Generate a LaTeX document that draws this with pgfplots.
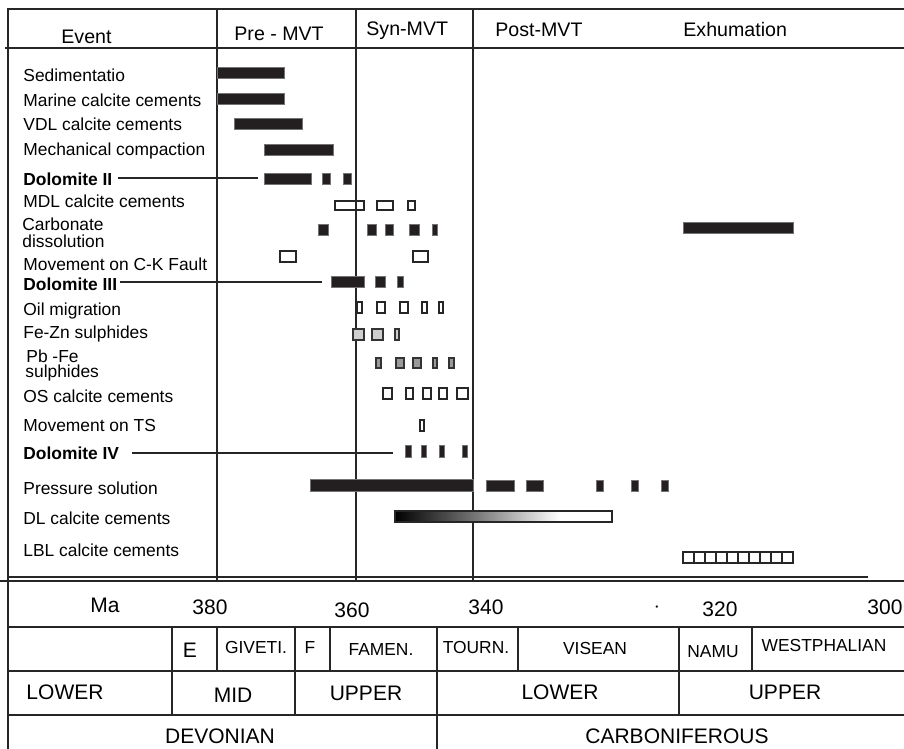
\documentclass[border=0pt]{standalone}
\usepackage{fontspec}
\setmainfont{Liberation Sans}
\usepackage{pgfplots}
\pgfplotsset{compat=1.18}
\definecolor{barblk}{HTML}{231F20}
\definecolor{lgray}{HTML}{CFCFCF}
\definecolor{mgray}{HTML}{9A9A9A}
\pgfdeclarehorizontalshading{dlshade}{100bp}{color(0bp)=(black); color(25bp)=(black); color(43bp)=(black!55); color(63bp)=(white); color(100bp)=(white)}
\newcommand\lab{\fontsize{8.7bp}{10bp}\selectfont}
\newcommand\hdr{\fontsize{9.8bp}{11bp}\selectfont}
\newcommand\scl{\fontsize{10.5bp}{12bp}\selectfont}
\newcommand\stg{\fontsize{8.7bp}{10bp}\selectfont}
% filled black bar: x1 x2 y1 y2
\newcommand\fb[4]{\addplot[fill=barblk, draw=black!55, line width=0.35bp] coordinates {(#1,#3) (#2,#3) (#2,#4) (#1,#4)} -- cycle;}
% open bar
\newcommand\ob[4]{\addplot[fill=none, draw=black!85, line width=0.7bp] coordinates {(#1,#3) (#2,#3) (#2,#4) (#1,#4)} -- cycle;}
% grey bar
\newcommand\gb[5]{\addplot[fill=#5, draw=black!80, line width=0.6bp] coordinates {(#1,#3) (#2,#3) (#2,#4) (#1,#4)} -- cycle;}
% segment
\newcommand\seg[5][1bp]{\addplot[black!85, line width=#1] coordinates {(#2,#4) (#3,#5)};}
\begin{document}
\begin{tikzpicture}
\begin{axis}[
  width=452bp, height=374.5bp, scale only axis,
  xmin=0, xmax=904, ymin=0, ymax=749, y dir=reverse,
  hide axis, clip=false]
% ---- frame lines
\seg[1.1bp]{7}{904}{9}{9}
\seg[1.2bp]{5}{904}{48}{48}
\seg[1bp]{8}{8}{9}{749}
\seg[1bp]{217}{217}{9}{581}
\seg[1bp]{356}{356}{9}{581}
\seg[1.1bp]{473}{473}{9}{581}
\seg[0.9bp]{8}{868}{577}{577}
\seg[1.1bp]{0}{904}{581}{581}
% ---- bottom table
\seg[1bp]{8}{904}{627}{627}
\seg[1bp]{8}{904}{671}{671}
\seg[1bp]{8}{904}{715}{715}
\seg[0.8bp]{172}{172}{627}{715}
\seg[0.8bp]{217}{217}{627}{671}
\seg[0.8bp]{295}{295}{627}{715}
\seg[0.8bp]{330}{330}{627}{671}
\seg[0.8bp]{437}{437}{627}{749}
\seg[0.8bp]{518}{518}{627}{671}
\seg[0.8bp]{679}{679}{627}{715}
\seg[0.8bp]{752}{752}{627}{671}
% ---- leader lines
\seg[0.7bp]{118}{258}{178}{178}
\seg[0.7bp]{120}{322}{282}{282}
\seg[0.7bp]{132}{393}{453}{453}
% ---- bars
\fb{217}{284}{67}{78}
\fb{217}{284}{93}{104}
\fb{234}{302}{118}{129}
\fb{264}{333}{144}{155}
\fb{264}{311}{173}{184}
\fb{322}{330}{173}{184}
\fb{343}{351}{173}{184}
\ob{335}{364}{201}{210}
\ob{377}{393}{201}{210}
\ob{408}{415}{201}{210}
\fb{318}{328}{224}{235}
\fb{367}{376}{224}{235}
\fb{385}{393}{224}{235}
\fb{409}{419}{224}{235}
\fb{432}{437}{224}{235}
\fb{683}{793}{222}{233}
\ob{280}{296}{251}{262}
\ob{413}{428}{251}{262}
\fb{331}{364}{276}{287}
\fb{375}{385}{276}{287}
\fb{397}{403}{276}{287}
\ob{357}{362}{302}{313}
\ob{377}{385}{302}{313}
\ob{400}{408}{302}{313}
\ob{422}{427}{302}{313}
\ob{439}{443}{302}{313}
\gb{353}{364}{329}{340}{lgray}
\gb{372}{383}{329}{340}{lgray}
\gb{395}{399}{329}{340}{lgray}
\gb{376}{381}{358}{368}{mgray}
\gb{396}{404}{358}{368}{mgray}
\gb{413}{421}{358}{368}{mgray}
\gb{433}{437}{358}{368}{mgray}
\gb{449}{454}{358}{368}{mgray}
\ob{383}{392}{388}{399}
\ob{406}{413}{388}{399}
\ob{423}{431}{388}{399}
\ob{439}{447}{388}{399}
\ob{457}{468}{388}{399}
\ob{420}{424}{420}{431}
\fb{405}{411}{445}{457}
\fb{421}{426}{445}{457}
\fb{439}{444}{445}{457}
\fb{462}{467}{445}{457}
\fb{310}{473}{479}{491}
\fb{486}{514}{480}{491}
\fb{526}{543}{480}{491}
\fb{596}{603}{480}{491}
\fb{631}{638}{480}{491}
\fb{661}{668}{480}{491}
\addplot[shade, shading=dlshade, draw=black!85, line width=0.7bp] coordinates {(395,511) (612,511) (612,522) (395,522)} -- cycle;
\ob{683}{694}{552}{563}
\ob{694}{705}{552}{563}
\ob{705}{716}{552}{563}
\ob{716}{727}{552}{563}
\ob{727}{738}{552}{563}
\ob{738}{749}{552}{563}
\ob{749}{760}{552}{563}
\ob{760}{771}{552}{563}
\ob{771}{782}{552}{563}
\ob{782}{793}{552}{563}
% ---- header text
\tikzset{hd/.style={anchor=base west, font=\hdr, inner sep=0pt}}
\node[hd] at (axis cs:61,44) {Event};
\node[hd] at (axis cs:234,41) {Pre - MVT};
\node[hd] at (axis cs:366,36) {Syn-MVT};
\node[hd] at (axis cs:495,37) {Post-MVT};
\node[hd] at (axis cs:683,37) {Exhumation};
% ---- event labels
\tikzset{lb/.style={anchor=base west, font=\lab, inner sep=0pt}}
\node[lb] at (axis cs:23,81) {Sedimentatio};
\node[lb] at (axis cs:23,106) {Marine calcite cements};
\node[lb] at (axis cs:23,130) {VDL calcite cements};
\node[lb] at (axis cs:23,155) {Mechanical compaction};
\node[lb] at (axis cs:23,185) {\bfseries Dolomite II};
\node[lb] at (axis cs:23,207) {MDL calcite cements};
\node[lb] at (axis cs:22,230) {Carbonate};
\node[lb] at (axis cs:22,247) {dissolution};
\node[lb] at (axis cs:23,270) {Movement on C-K Fault};
\node[lb] at (axis cs:23,290) {\bfseries Dolomite III};
\node[lb] at (axis cs:23,315) {Oil migration};
\node[lb] at (axis cs:23,338) {Fe-Zn sulphides};
\node[lb] at (axis cs:26,362) {Pb -Fe};
\node[lb] at (axis cs:25,377) {sulphides};
\node[lb] at (axis cs:23,402) {OS calcite cements};
\node[lb] at (axis cs:23,431) {Movement on TS};
\node[lb] at (axis cs:23,459) {\bfseries Dolomite IV};
\node[lb] at (axis cs:23,494) {Pressure solution};
\node[lb] at (axis cs:23,524) {DL calcite cements};
\node[lb] at (axis cs:23,556) {LBL calcite cements};
% ---- time scale text
\tikzset{sc/.style={anchor=base, font=\scl, inner sep=0pt}, st/.style={anchor=base, font=\stg, inner sep=0pt}}
\node[sc] at (axis cs:105,612) {Ma};
\node[sc] at (axis cs:210,614) {380};
\node[sc] at (axis cs:352,617) {360};
\node[sc] at (axis cs:486,614) {340};
\node[sc] at (axis cs:657,612) {$\cdot$};
\node[sc] at (axis cs:720,616) {320};
\node[sc] at (axis cs:885,614) {300};
\node[sc] at (axis cs:190,657) {E};
\node[st] at (axis cs:256,653) {GIVETI.};
\node[st] at (axis cs:310,653) {F};
\node[st] at (axis cs:381,655) {FAMEN.};
\node[st] at (axis cs:476,653) {TOURN.};
\node[st] at (axis cs:595,654) {VISEAN};
\node[st] at (axis cs:713,657) {NAMU};
\node[st] at (axis cs:824,651) {WESTPHALIAN};
\node[sc] at (axis cs:65,699) {LOWER};
\node[sc] at (axis cs:233,702) {MID};
\node[sc] at (axis cs:366,700) {UPPER};
\node[sc] at (axis cs:560,699) {LOWER};
\node[sc] at (axis cs:785,699) {UPPER};
\node[sc] at (axis cs:220,743) {DEVONIAN};
\node[sc] at (axis cs:677,743) {CARBONIFEROUS};
\end{axis}
\pgfresetboundingbox
\path (0,0) rectangle (452bp,374.5bp);
\end{tikzpicture}
\end{document}
